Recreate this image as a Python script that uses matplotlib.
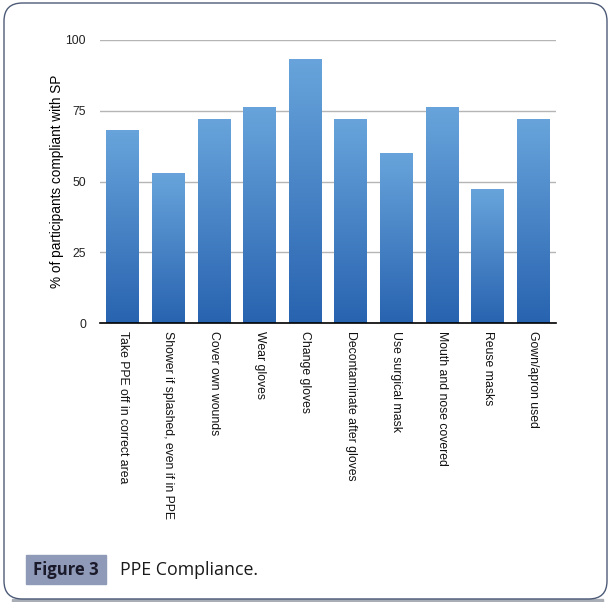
import numpy as np
import matplotlib
matplotlib.use("Agg")
from matplotlib import pyplot as plt
from matplotlib.colors import LinearSegmentedColormap
from matplotlib.patches import FancyBboxPatch, Rectangle

# data
categories = ["Take PPE off in correct area", "Shower if splashed, even if in PPE",
              "Cover own wounds", "Wear gloves", "Change gloves",
              "Decontaminate after gloves", "Use surgical mask",
              "Mouth and nose covered", "Reuse masks", "Gown/apron used"]
values = [68, 53, 72, 76, 93, 72, 60, 76, 47, 72]
yticks = [0, 25, 50, 75, 100]

plt.rcParams['font.family'] = ['Liberation Sans', 'DejaVu Sans']

fig = plt.figure(figsize=(6.15, 6.02), dpi=100)

# outer rounded frame
frame = FancyBboxPatch((4/615, 3/602), 603/615, 596/602,
                       boxstyle="round,pad=0,rounding_size=0.03",
                       transform=fig.transFigure, fill=False,
                       edgecolor="#4d5b78", linewidth=1.0)
fig.patches.append(frame)
fig.patches.append(Rectangle((0.02, 0.0), 0.96, 3/602, transform=fig.transFigure,
                             color="#a9adb5", zorder=0))

ax = fig.add_axes([100/615, 1 - 323/602, 456/615, 283/602])
x = np.arange(len(categories))
bars = ax.bar(x, values, width=0.72, color="none", zorder=2)

# gradient fill per bar, light on top, dark at the base
cmap = LinearSegmentedColormap.from_list("blu", ["#2863b0", "#68a4db"])
grad = np.linspace(0, 1, 256).reshape(-1, 1)
for b in bars:
    x0, w, h = b.get_x(), b.get_width(), b.get_height()
    ax.imshow(grad, cmap=cmap, origin="lower", aspect="auto",
              extent=(x0, x0 + w, 0, h), zorder=2)

ax.set_xlim(-0.5, len(categories) - 0.5)
ax.set_ylim(0, 100)
ax.set_yticks(yticks)
ax.set_yticklabels([str(t) for t in yticks], fontsize=8.8, color="#222222")
ax.yaxis.grid(True, color="#b5b5b5", linewidth=1.0, zorder=0)
ax.set_axisbelow(True)
ax.tick_params(axis="y", length=0, pad=10)
ax.tick_params(axis="x", length=0, pad=6)
ax.set_xticks(x)
ax.set_xticklabels(categories, rotation=270, fontsize=8.8, va="top", ha="center",
                   color="#111111")
for s in ["left", "right", "top"]:
    ax.spines[s].set_visible(False)
ax.spines["bottom"].set_color("black")
ax.spines["bottom"].set_linewidth(1.2)
ax.spines["bottom"].set_zorder(3)
ax.set_ylabel("% of participants compliant with SP", fontsize=9.8, labelpad=1)

# caption
fig.patches.append(Rectangle((26/615, 1 - 584/602), 80/615, 29/602,
                             transform=fig.transFigure, color="#8e9ab7", zorder=1))
fig.text(66/615, 1 - 570/602, "Figure 3", fontsize=12, fontweight="bold",
         ha="center", va="center", color="#1a1a2a", family=["Open Sans", "DejaVu Sans"])
fig.text(120/615, 1 - 570/602, "PPE Compliance.", fontsize=12.8,
         ha="left", va="center", color="#1a1a1a", family=["Open Sans", "DejaVu Sans"])

fig.savefig("out.png", dpi=100)
